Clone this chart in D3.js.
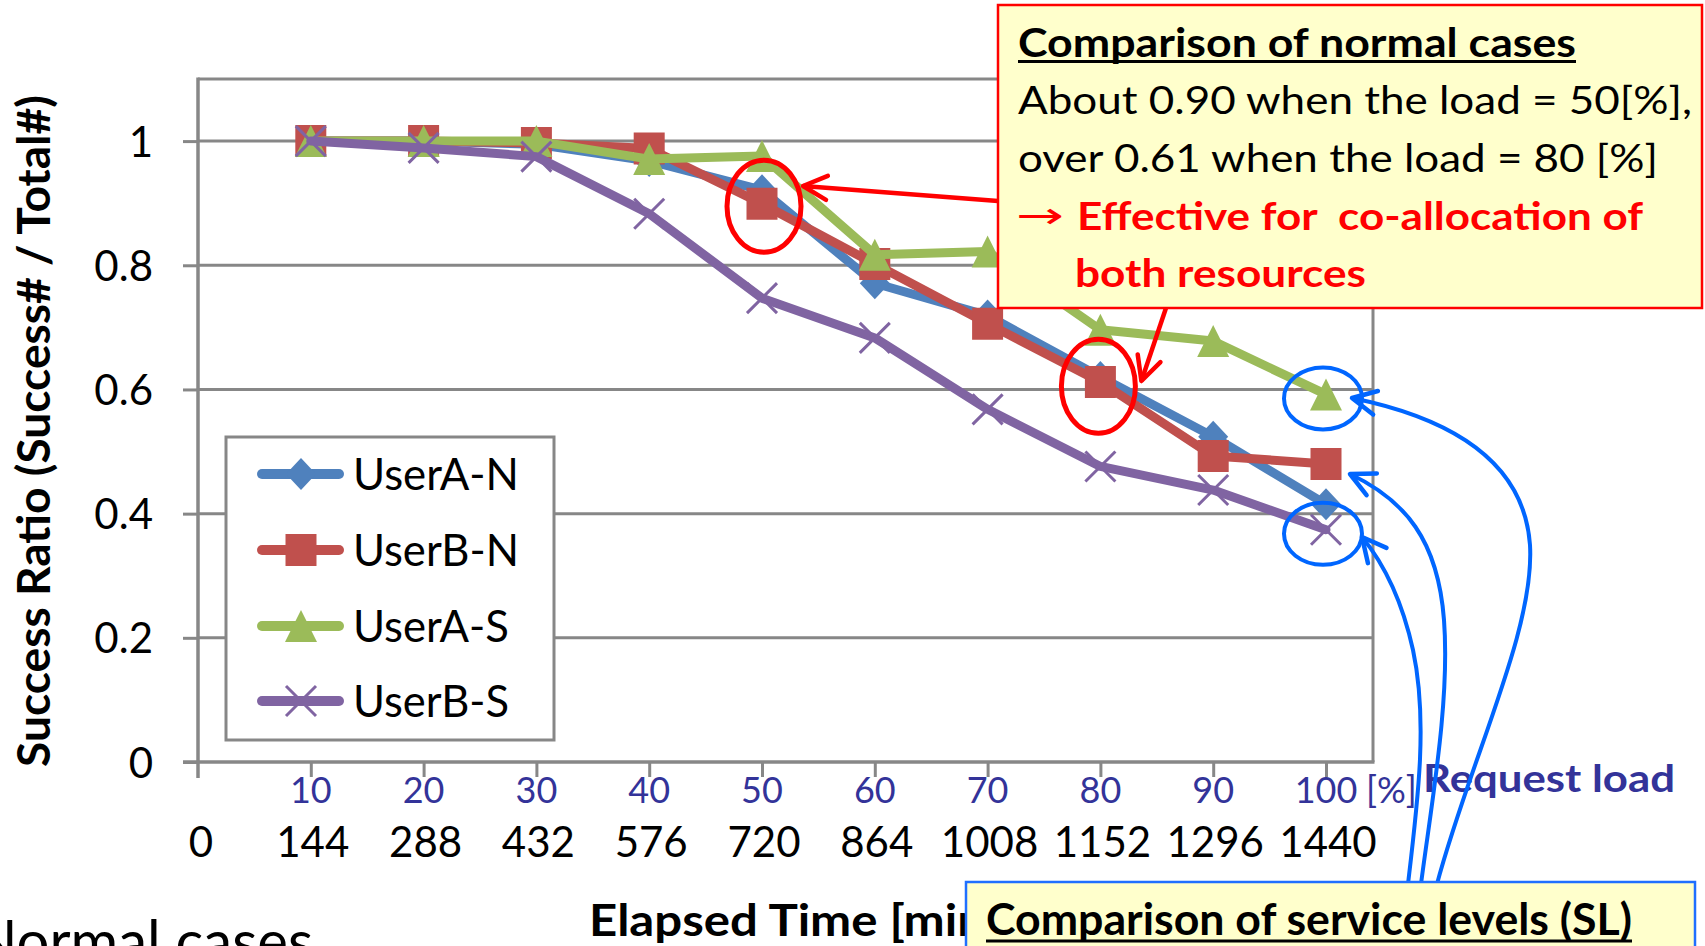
<!DOCTYPE html>
<html><head><meta charset="utf-8">
<script src="https://cdn.jsdelivr.net/npm/d3@7"></script>
<style>
html,body{margin:0;padding:0;background:#fff;overflow:hidden}
svg{display:block;font-family:Lato,"Open Sans",sans-serif}
</style></head><body>
<svg id="chart" width="1705" height="946"></svg>
<script>
// ---------------- data ----------------
const loadPercent = [10, 20, 30, 40, 50, 60, 70, 80, 90, 100];
const elapsedTime = [144, 288, 432, 576, 720, 864, 1008, 1152, 1296, 1440];
const elapsedTickLabels = [0, 144, 288, 432, 576, 720, 864, 1008, 1152, 1296, 1440];
const yTickValues = [0, 0.2, 0.4, 0.6, 0.8, 1];
const seriesNames = ["UserA-N", "UserB-N", "UserA-S", "UserB-S"];
const userAN = [1.0, 1.0, 0.995, 0.968, 0.921, 0.771, 0.719, 0.620, 0.524, 0.415];
const userBN = [1.0, 1.0, 0.997, 0.988, 0.899, 0.802, 0.706, 0.612, 0.493, 0.480];
const userAS = [1.0, 1.0, 1.0, 0.971, 0.976, 0.817, 0.822, 0.696, 0.678, 0.592];
const userBS = [1.0, 0.989, 0.975, 0.883, 0.747, 0.683, 0.568, 0.476, 0.438, 0.374];
const seriesValues = [userAN, userBN, userAS, userBS];

// ---------------- styles ----------------
const seriesColors = ["#4F81BD", "#C0504D", "#9BBB59", "#8064A2"];
const seriesMarkers = ["diamond", "square", "triangle", "x"];
const axisGray = "#878787";
const loadColor = "#333399";

const svg = d3.select("#chart");
const x = d3.scaleLinear().domain([0, 1500]).range([198, 1373]);
const y = d3.scaleLinear().domain([0, 1.1]).range([762, 79]);

// marker drawing
function markerPath(type) {
  switch (type) {
    case "diamond": return "M0,-16L15,0L0,16L-15,0Z";
    case "square": return "M-15.5,-16H15.5V16H-15.5Z";
    case "triangle": return "M0,-16L16,16L-16,16Z";
    case "x": return "M-15,-15L15,15M-15,15L15,-15";
  }
}
function drawMarker(g, type, color, cx, cy) {
  const p = g.append("path").attr("d", markerPath(type))
    .attr("transform", `translate(${cx},${cy})`);
  if (type === "x") p.attr("fill", "none").attr("stroke", color).attr("stroke-width", 3);
  else p.attr("fill", color);
}

// ---------------- grid & frame ----------------
const grid = svg.append("g");
grid.selectAll("line.g").data(yTickValues.filter(v => v > 0)).join("line")
  .attr("x1", x(0)).attr("x2", x(1500)).attr("y1", d => y(d)).attr("y2", d => y(d))
  .attr("stroke", axisGray).attr("stroke-width", 3);
grid.append("line").attr("x1", x(0)).attr("x2", x(1500)).attr("y1", y(1.1)).attr("y2", y(1.1))
  .attr("stroke", axisGray).attr("stroke-width", 3);
grid.append("line").attr("x1", x(1500)).attr("x2", x(1500)).attr("y1", y(1.1)).attr("y2", y(0))
  .attr("stroke", axisGray).attr("stroke-width", 3);

// y axis
const yAxis = d3.axisLeft(y).tickValues(yTickValues).tickSize(15).tickPadding(30)
  .tickFormat(d => d === 0 || d === 1 ? d3.format("d")(d) : d3.format(".1f")(d));
const yG = svg.append("g").attr("transform", `translate(${x(0)},0)`).call(yAxis);
yG.select(".domain").remove();
yG.selectAll(".tick line").attr("stroke", axisGray).attr("stroke-width", 3);
yG.selectAll(".tick text").attr("font-family", "Lato").attr("font-size", 42)
  .attr("fill", "#000").attr("dy", "0.36em");
svg.append("line").attr("x1", x(0)).attr("x2", x(0)).attr("y1", y(1.1) - 1.5).attr("y2", 778)
  .attr("stroke", axisGray).attr("stroke-width", 3.5);

// x axis
const xAxis = d3.axisBottom(x).tickValues(elapsedTime).tickSize(15).tickFormat("");
const xG = svg.append("g").attr("transform", `translate(0,${y(0)})`).call(xAxis);
xG.select(".domain").remove();
xG.selectAll(".tick line").attr("stroke", axisGray).attr("stroke-width", 3);
svg.append("line").attr("x1", 183).attr("x2", x(1500) + 1.5).attr("y1", y(0)).attr("y2", y(0))
  .attr("stroke", axisGray).attr("stroke-width", 3.5);

// x labels: load [%]
svg.append("g").selectAll("text").data(loadPercent).join("text")
  .attr("x", (d, i) => x(elapsedTime[i])).attr("y", 803)
  .attr("text-anchor", "middle").attr("font-size", 36).attr("fill", loadColor)
  .text(d => d);
svg.append("text").attr("x", 1366).attr("y", 803).attr("font-size", 36)
  .attr("fill", loadColor).text("[%]");
// x labels: elapsed time
svg.append("g").selectAll("text").data(elapsedTickLabels).join("text")
  .attr("x", d => x(d) + (d === 0 ? 3 : 2)).attr("y", 857)
  .attr("text-anchor", "middle").attr("font-size", 42).attr("fill", "#000")
  .text(d => d);

// axis titles
svg.append("text").attr("transform", "translate(50,431) rotate(-90)")
  .attr("text-anchor", "middle").attr("font-weight", "bold").attr("font-size", 46)
  .attr("textLength", 672).attr("lengthAdjust", "spacingAndGlyphs")
  .text("Success Ratio (Success# / Total#)");
svg.append("text").attr("x", 589).attr("y", 936).attr("font-weight", "bold")
  .attr("font-size", 44).attr("textLength", 410).attr("lengthAdjust", "spacingAndGlyphs")
  .text("Elapsed Time [min]");
svg.append("text").attr("x", 1423).attr("y", 792).attr("font-weight", "bold")
  .attr("font-size", 38).attr("fill", loadColor)
  .attr("textLength", 252).attr("lengthAdjust", "spacingAndGlyphs").text("Request load");
svg.append("text").attr("x", 313).attr("y", 962).attr("text-anchor", "end")
  .attr("font-size", 58).text("Normal cases");

// ---------------- series ----------------
const line = d3.line().x(d => x(d[0])).y(d => y(d[1]));
seriesValues.forEach((vals, si) => {
  const g = svg.append("g");
  const pts = vals.map((v, i) => [elapsedTime[i], v]);
  g.append("path").attr("d", line(pts)).attr("fill", "none")
    .attr("stroke", seriesColors[si]).attr("stroke-width", 9)
    .attr("stroke-linejoin", "round").attr("stroke-linecap", "round");
  pts.forEach(p => drawMarker(g, seriesMarkers[si], seriesColors[si], x(p[0]), y(p[1])));
});

// ---------------- legend ----------------
const leg = svg.append("g");
leg.append("rect").attr("x", 226).attr("y", 437).attr("width", 328).attr("height", 303)
  .attr("fill", "#fff").attr("stroke", axisGray).attr("stroke-width", 3);
const legY = [474, 550, 626, 701];
seriesNames.forEach((name, i) => {
  leg.append("line").attr("x1", 262).attr("x2", 339).attr("y1", legY[i]).attr("y2", legY[i])
    .attr("stroke", seriesColors[i]).attr("stroke-width", 10).attr("stroke-linecap", "round");
  drawMarker(leg, seriesMarkers[i], seriesColors[i], 301, legY[i]);
  leg.append("text").attr("x", 353).attr("y", legY[i] + 16).attr("font-size", 44)
    .attr("textLength", 166 - (name.endsWith("S") ? 10 : 0)).attr("lengthAdjust", "spacingAndGlyphs")
    .text(name);
});

// ---------------- annotations ----------------
const defs = svg.append("defs");
function chevron(id, color) {
  defs.append("marker").attr("id", id).attr("markerUnits", "userSpaceOnUse")
    .attr("viewBox", "-30 -16 34 32").attr("markerWidth", 34).attr("markerHeight", 32)
    .attr("refX", 0).attr("refY", 0).attr("orient", "auto")
    .append("path").attr("d", "M-24,-12L0,0L-24,12").attr("fill", "none")
    .attr("stroke", color).attr("stroke-width", 4.5).attr("stroke-linecap", "round")
    .attr("stroke-linejoin", "round");
}
chevron("redHead", "#FF0000");
chevron("blueHead", "#0066FF");

const ann = svg.append("g");
// red ellipses around UserB-N at 50% and 80%
ann.append("ellipse").attr("cx", x(720) + 2).attr("cy", y(0.90) + 3).attr("rx", 37).attr("ry", 46)
  .attr("fill", "none").attr("stroke", "#FF0000").attr("stroke-width", 5);
ann.append("ellipse").attr("cx", x(1152) - 2).attr("cy", y(0.61) + 3).attr("rx", 37).attr("ry", 47)
  .attr("fill", "none").attr("stroke", "#FF0000").attr("stroke-width", 5);
// red arrows
ann.append("path").attr("d", `M998,201L${x(720) + 41},186`).attr("stroke", "#FF0000")
  .attr("stroke-width", 4.5).attr("fill", "none").attr("marker-end", "url(#redHead)");
ann.append("path").attr("d", `M1166,308L${x(1152) + 41},381`).attr("stroke", "#FF0000")
  .attr("stroke-width", 4.5).attr("fill", "none").attr("marker-end", "url(#redHead)");

// blue ellipses at 100%
ann.append("ellipse").attr("cx", x(1440) - 3).attr("cy", y(0.592) + 4).attr("rx", 39).attr("ry", 31)
  .attr("fill", "none").attr("stroke", "#0066FF").attr("stroke-width", 4);
ann.append("ellipse").attr("cx", x(1440) - 3).attr("cy", y(0.374) + 4).attr("rx", 39).attr("ry", 31)
  .attr("fill", "none").attr("stroke", "#0066FF").attr("stroke-width", 4);
// blue curved arrows
const blueCurves = [
  "M1437,884C1470,760 1535,630 1530,545C1524,460 1450,418 1352,398",
  "M1421,884C1432,800 1450,700 1444,620C1438,540 1405,500 1350,474",
  "M1408,884C1418,800 1428,720 1413,650C1402,600 1385,565 1362,537"
];
blueCurves.forEach(d => ann.append("path").attr("d", d).attr("fill", "none")
  .attr("stroke", "#0066FF").attr("stroke-width", 4).attr("marker-end", "url(#blueHead)"));

// top-right callout
const box1 = svg.append("g");
box1.append("rect").attr("x", 998).attr("y", 5).attr("width", 704).attr("height", 303)
  .attr("fill", "#FFFFCC").attr("stroke", "#FF0000").attr("stroke-width", 2.5);
box1.append("text").attr("x", 1018).attr("y", 57).attr("font-weight", "bold").attr("font-size", 40)
  .attr("textLength", 558).attr("lengthAdjust", "spacingAndGlyphs").text("Comparison of normal cases");
box1.append("line").attr("x1", 1018).attr("x2", 1576).attr("y1", 61.5).attr("y2", 61.5)
  .attr("stroke", "#000").attr("stroke-width", 3);
box1.append("text").attr("x", 1018).attr("y", 114).attr("font-size", 39)
  .attr("textLength", 674).attr("lengthAdjust", "spacingAndGlyphs").text("About 0.90 when the load = 50[%],");
box1.append("text").attr("x", 1018).attr("y", 172).attr("font-size", 39)
  .attr("textLength", 640).attr("lengthAdjust", "spacingAndGlyphs").text("over 0.61 when the load = 80 [%]");
box1.append("text").attr("x", 1016).attr("y", 228).attr("font-size", 36).attr("fill", "#FF0000")
  .attr("font-family", "DejaVu Sans").attr("textLength", 48).attr("lengthAdjust", "spacingAndGlyphs")
  .text("\u2192");
box1.append("text").attr("x", 1077).attr("y", 230).attr("font-weight", "bold").attr("font-size", 39)
  .attr("fill", "#FF0000").style("white-space", "pre")
  .attr("textLength", 566).attr("lengthAdjust", "spacingAndGlyphs").text("Effective for  co-allocation of");
box1.append("text").attr("x", 1075).attr("y", 287).attr("font-weight", "bold").attr("font-size", 39)
  .attr("fill", "#FF0000").attr("textLength", 291).attr("lengthAdjust", "spacingAndGlyphs")
  .text("both resources");

// bottom callout
const box2 = svg.append("g");
box2.append("rect").attr("x", 966).attr("y", 882).attr("width", 729).attr("height", 120)
  .attr("fill", "#FFFFCC").attr("stroke", "#1F6FFF").attr("stroke-width", 2.5);
box2.append("text").attr("x", 986).attr("y", 935).attr("font-weight", "bold").attr("font-size", 44)
  .attr("textLength", 646).attr("lengthAdjust", "spacingAndGlyphs").text("Comparison of service levels (SL)");
box2.append("line").attr("x1", 986).attr("x2", 1632).attr("y1", 941).attr("y2", 941)
  .attr("stroke", "#000").attr("stroke-width", 3);
</script>
</body></html>
